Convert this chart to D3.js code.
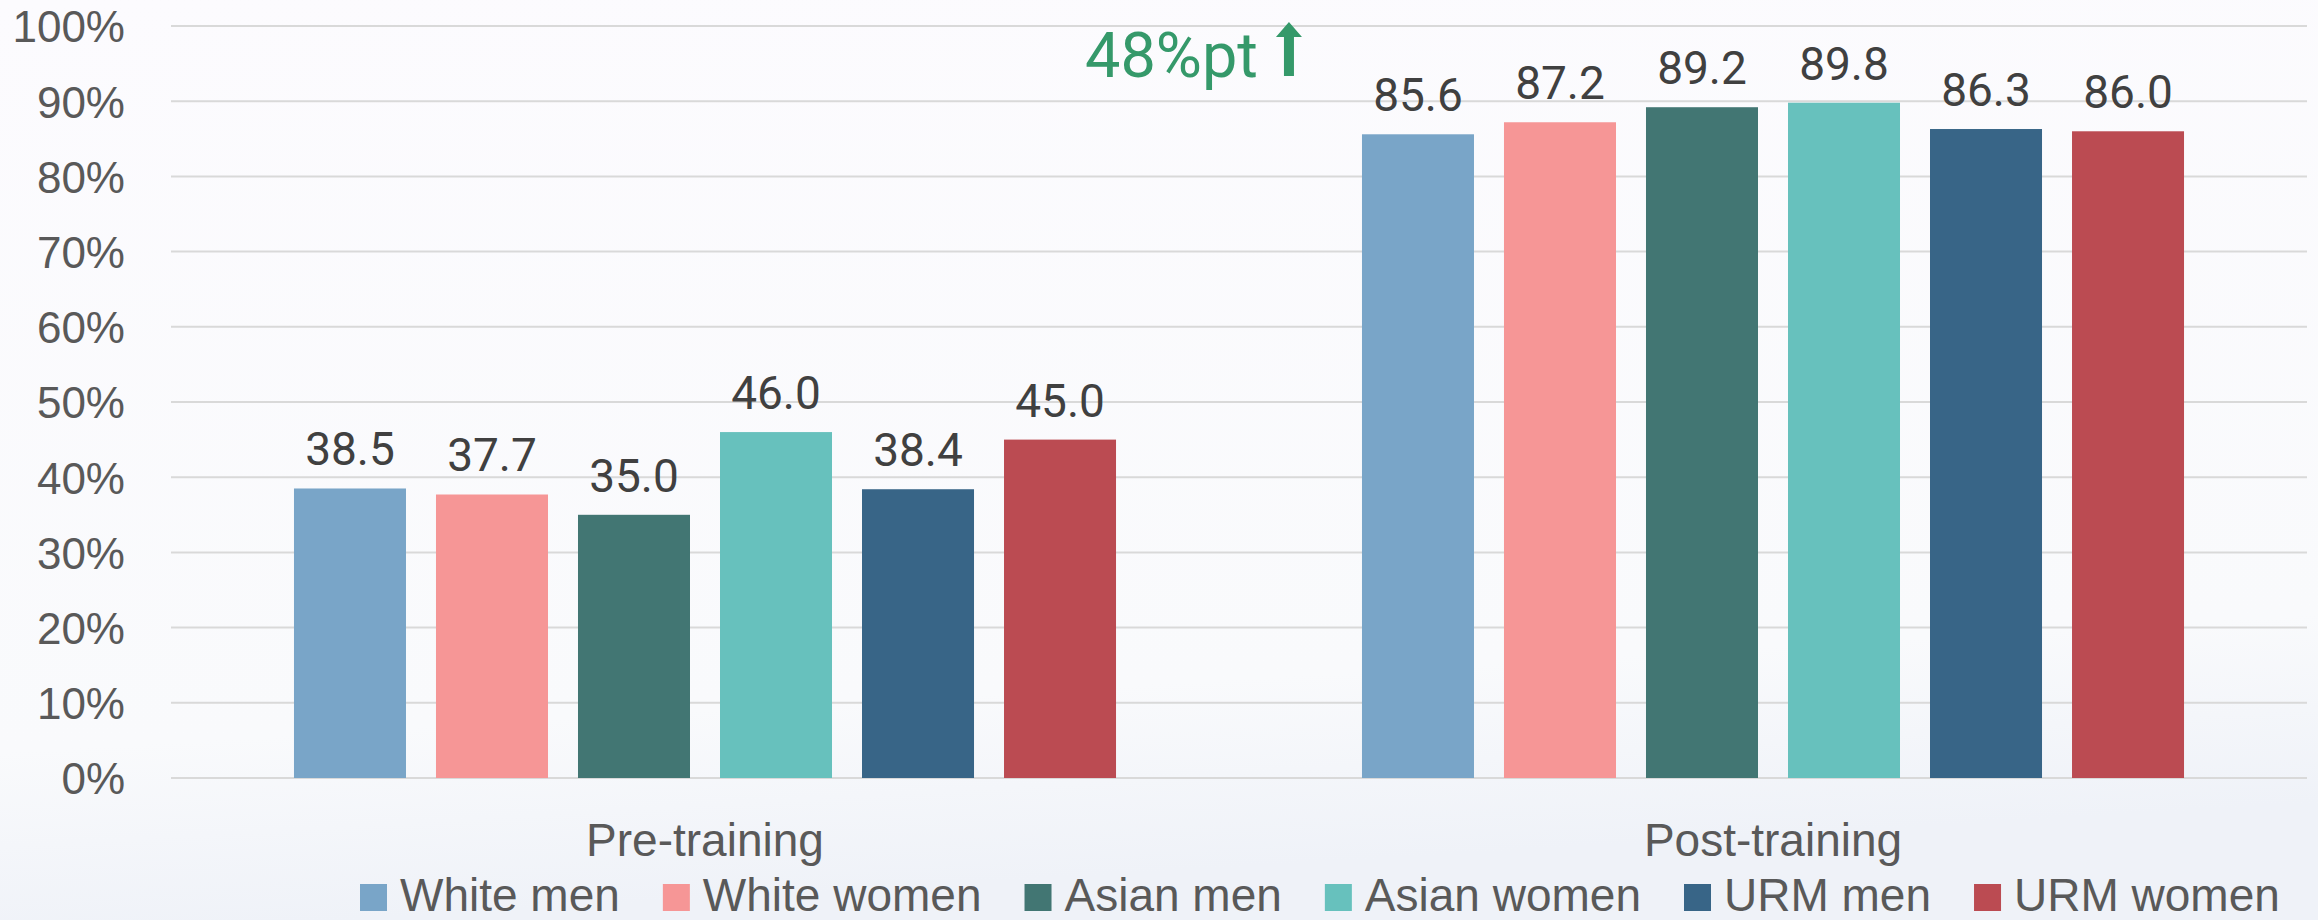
<!DOCTYPE html>
<html>
<head>
<meta charset="utf-8">
<script src="https://cdn.jsdelivr.net/npm/d3@7"></script>
<style>
  html, body { margin: 0; padding: 0; background: #fbfbfd; }
  svg { display: block; }
</style>
</head>
<body>
<svg id="chart" width="2318" height="920"></svg>
<script>
// Share of correct responses by group, before and after training
const groups = ["Pre-training", "Post-training"];
const series = ["White men", "White women", "Asian men", "Asian women", "URM men", "URM women"];
const preValues = [38.5, 37.7, 35.0, 46.0, 38.4, 45.0];
const postValues = [85.6, 87.2, 89.2, 89.8, 86.3, 86.0];
const seriesColors = ["#79a5c8", "#f69696", "#427673", "#67c1bd", "#386587", "#bb4b52"];
const yTicks = [0, 10, 20, 30, 40, 50, 60, 70, 80, 90, 100];
const gainLabel = "48%pt";

const valuesByGroup = [preValues, postValues];

const svg = d3.select("#chart");
const W = 2318, H = 920;
const margin = { left: 171, right: 11, top: 26, bottom: 142 };

// soft page background
const defs = svg.append("defs");
const bg = defs.append("linearGradient").attr("id", "bg").attr("x1", 0).attr("y1", 0).attr("x2", 0.15).attr("y2", 1);
bg.append("stop").attr("offset", "0%").attr("stop-color", "#fcfbfe");
bg.append("stop").attr("offset", "80%").attr("stop-color", "#f9fafc");
bg.append("stop").attr("offset", "100%").attr("stop-color", "#eff2f8");
svg.append("rect").attr("width", W).attr("height", H).attr("fill", "url(#bg)");

const x0 = d3.scaleBand().domain(groups).range([margin.left, W - margin.right]).padding(0);
const x1 = d3.scaleBand().domain(series).range([0, x0.bandwidth()]).paddingInner(30 / 142).paddingOuter(0.866);
const y = d3.scaleLinear().domain([0, 100]).range([H - margin.bottom, margin.top]);

// gridlines
svg.append("g")
  .selectAll("line")
  .data(yTicks)
  .join("line")
  .attr("x1", margin.left).attr("x2", W - margin.right)
  .attr("y1", d => y(d)).attr("y2", d => y(d))
  .attr("stroke", "#d9d9d9").attr("stroke-width", 2);

// y-axis tick labels
const yAxis = d3.axisLeft(y).tickValues(yTicks).tickFormat(d => d + "%").tickSize(0).tickPadding(0);
const yg = svg.append("g").attr("transform", `translate(125,0)`).call(yAxis);
yg.select(".domain").remove();
yg.selectAll("text")
  .attr("font-family", "'Liberation Sans', Arial, sans-serif")
  .attr("font-size", 44)
  .attr("fill", "#595959")
  .attr("dy", "0.36em")
  .attr("x", 0);

// bars and value labels
const groupG = svg.append("g")
  .selectAll("g")
  .data(groups)
  .join("g")
  .attr("transform", d => `translate(${x0(d)},0)`);

groupG.selectAll("rect")
  .data((g, gi) => series.map((s, i) => ({ s, i, v: valuesByGroup[gi][i] })))
  .join("rect")
  .attr("x", d => x1(d.s))
  .attr("width", x1.bandwidth())
  .attr("y", d => y(d.v))
  .attr("height", d => y(0) - y(d.v))
  .attr("fill", d => seriesColors[d.i]);

groupG.selectAll("text.val")
  .data((g, gi) => series.map((s, i) => ({ s, i, v: valuesByGroup[gi][i] })))
  .join("text")
  .attr("class", "val")
  .attr("x", d => x1(d.s) + x1.bandwidth() / 2)
  .attr("y", d => y(d.v) - 23)
  .attr("text-anchor", "middle")
  .attr("font-family", "Roboto, 'Liberation Sans', sans-serif")
  .attr("font-size", 46)
  .attr("fill", "#404040")
  .text(d => d.v.toFixed(1));

// category labels
svg.append("g")
  .selectAll("text")
  .data(groups)
  .join("text")
  .attr("x", d => x0(d) + x0.bandwidth() / 2)
  .attr("y", 856)
  .attr("text-anchor", "middle")
  .attr("font-family", "'Liberation Sans', Arial, sans-serif")
  .attr("font-size", 46)
  .attr("fill", "#595959")
  .text(d => d);

// legend
const legend = svg.append("g").attr("transform", "translate(360,0)");
let cursor = 0;
series.forEach((s, i) => {
  const item = legend.append("g").attr("transform", `translate(${cursor},0)`);
  item.append("rect").attr("x", 0).attr("y", 884).attr("width", 27).attr("height", 27).attr("fill", seriesColors[i]);
  const t = item.append("text")
    .attr("x", 40).attr("y", 911)
    .attr("font-family", "'Liberation Sans', Arial, sans-serif")
    .attr("font-size", 46)
    .attr("fill", "#595959")
    .text(s);
  cursor += 40 + t.node().getComputedTextLength() + 43;
});

// gain annotation
const ann = svg.append("g");
const annText = ann.append("text")
  .attr("x", 1085).attr("y", 77)
  .attr("font-family", "Roboto, 'Liberation Sans', sans-serif")
  .attr("font-size", 63)
  .attr("fill", "#35996a")
  .text(gainLabel);
const ax = 1085 + annText.node().getComputedTextLength() + 31;
ann.append("path")
  .attr("d", `M${ax},22 L${ax + 13},37 L${ax + 5},37 L${ax + 5},76 L${ax - 5},76 L${ax - 5},37 L${ax - 13},37 Z`)
  .attr("fill", "#35996a");
</script>
</body>
</html>
